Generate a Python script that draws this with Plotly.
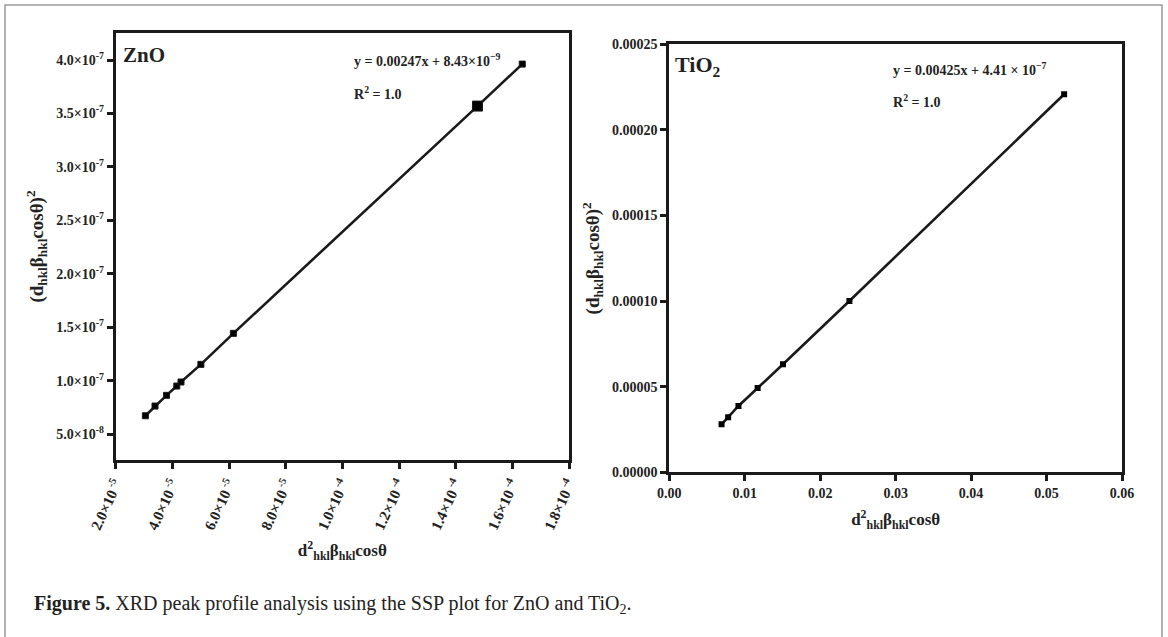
import plotly.graph_objects as go

# ---- data ----
zno_x = [3.048e-5, 3.387e-5, 3.793e-5, 4.156e-5, 4.305e-5, 5.007e-5, 6.154e-5, 1.477e-4, 1.635e-4]
zno_y = [6.71e-8, 7.62e-8, 8.62e-8, 9.49e-8, 9.87e-8, 1.152e-7, 1.442e-7, 3.569e-7, 3.962e-7]
zno_marker_size = [6, 6, 6, 6, 6, 6, 6, 10, 6]

tio2_x = [0.006927, 0.0078, 0.009166, 0.01171, 0.01507, 0.02387, 0.05233]
tio2_y = [2.804e-5, 3.213e-5, 3.873e-5, 4.924e-5, 6.308e-5, 1.0006e-4, 2.208e-4]

zno_yticks = [5e-8, 1e-7, 1.5e-7, 2e-7, 2.5e-7, 3e-7, 3.5e-7, 4e-7]
zno_ytext = ["5.0×10<sup>-8</sup>", "1.0×10<sup>-7</sup>", "1.5×10<sup>-7</sup>", "2.0×10<sup>-7</sup>",
             "2.5×10<sup>-7</sup>", "3.0×10<sup>-7</sup>", "3.5×10<sup>-7</sup>", "4.0×10<sup>-7</sup>"]
zno_xticks = [2e-5, 4e-5, 6e-5, 8e-5, 1e-4, 1.2e-4, 1.4e-4, 1.6e-4, 1.8e-4]
zno_xtext = ["2.0×10<sup> -5</sup>", "4.0×10<sup> -5</sup>", "6.0×10<sup> -5</sup>", "8.0×10<sup> -5</sup>",
             "1.0×10<sup> -4</sup>", "1.2×10<sup> -4</sup>", "1.4×10<sup> -4</sup>", "1.6×10<sup> -4</sup>",
             "1.8×10<sup> -4</sup>"]
tio2_yticks = [0, 0.00005, 0.0001, 0.00015, 0.0002, 0.00025]
tio2_ytext = ["0.00000", "0.00005", "0.00010", "0.00015", "0.00020", "0.00025"]
tio2_xticks = [0, 0.01, 0.02, 0.03, 0.04, 0.05, 0.06]
tio2_xtext = ["0.00", "0.01", "0.02", "0.03", "0.04", "0.05", "0.06"]

W, H = 1168, 637
FONT = "Liberation Serif"
INK = "#222222"

fig = go.Figure()
fig.add_trace(go.Scatter(
    x=zno_x, y=zno_y, mode="lines+markers", xaxis="x", yaxis="y",
    line=dict(color="#1a1a1a", width=2.6),
    marker=dict(symbol="square", size=zno_marker_size, color="#000000", opacity=1),
    showlegend=False, name="ZnO"))
fig.add_trace(go.Scatter(
    x=tio2_x, y=tio2_y, mode="lines+markers", xaxis="x2", yaxis="y2",
    line=dict(color="#1a1a1a", width=2.6),
    marker=dict(symbol="square", size=6, color="#000000", opacity=1),
    showlegend=False, name="TiO2"))

tickfont = dict(family=FONT, size=14, color=INK, weight="bold")
axis_common = dict(showline=True, mirror=True, linewidth=3, linecolor="#1a1a1a",
                   ticks="outside", ticklen=6, tickwidth=3, tickcolor="#1a1a1a",
                   showgrid=False, zeroline=False, automargin=False)

ytitle = "<b>(d<sub>hkl</sub>β<sub>hkl</sub>cosθ)<sup>2</sup></b>"
xtitle = "<b>d<sup>2</sup><sub>hkl</sub>β<sub>hkl</sub>cosθ</b>"
xtitlefont = dict(family=FONT, size=17, color=INK)
ytitlefont = dict(family=FONT, size=19, color=INK)

fig.update_layout(
    width=W, height=H,
    margin=dict(l=0, r=0, t=0, b=0, autoexpand=False),
    paper_bgcolor="white", plot_bgcolor="white",
    font=dict(family=FONT, color=INK),
    xaxis=dict(domain=[115.7 / W, 569 / W], range=[2e-5, 1.8e-4], anchor="y",
               tickvals=zno_xticks, ticktext=zno_xtext, tickangle=-65,
               tickfont=dict(family=FONT, size=15, color=INK, weight="bold"),
               title=dict(text=xtitle, font=xtitlefont, standoff=13), **axis_common),
    yaxis=dict(domain=[1 - 460 / H, 1 - 33 / H], range=[2.57e-8, 4.253e-7], anchor="x",
               tickvals=zno_yticks, ticktext=zno_ytext, tickfont=tickfont,
               title=dict(text=ytitle, font=ytitlefont, standoff=8), **axis_common),
    xaxis2=dict(domain=[669.3 / W, 1122 / W], range=[0, 0.06], anchor="y2",
                tickvals=tio2_xticks, ticktext=tio2_xtext, tickfont=tickfont,
                title=dict(text=xtitle, font=xtitlefont, standoff=14), **axis_common),
    yaxis2=dict(domain=[1 - 472.3 / H, 1 - 44.3 / H], range=[0, 0.00025], anchor="x2",
                tickvals=tio2_yticks, ticktext=tio2_ytext, tickfont=tickfont,
                title=dict(text=ytitle, font=ytitlefont, standoff=8), **axis_common),
)

ann_font = dict(family=FONT, size=14, color=INK)
fig.add_annotation(text="<b>ZnO</b>", xref="paper", yref="paper", x=121 / W, y=1 - 55 / H,
                   xanchor="left", yanchor="middle", showarrow=False,
                   font=dict(family=FONT, size=21, color=INK))
fig.add_annotation(text="<b>y = 0.00247x + 8.43×10<sup>−9</sup></b>", xref="paper", yref="paper",
                   x=352 / W, y=1 - 60 / H, xanchor="left", yanchor="middle", showarrow=False, font=ann_font)
fig.add_annotation(text="<b>R<sup>2</sup> = 1.0</b>", xref="paper", yref="paper",
                   x=352 / W, y=1 - 93 / H, xanchor="left", yanchor="middle", showarrow=False, font=ann_font)
fig.add_annotation(text="<b>TiO<sub>2</sub></b>", xref="paper", yref="paper", x=673 / W, y=1 - 66 / H,
                   xanchor="left", yanchor="middle", showarrow=False,
                   font=dict(family=FONT, size=22, color=INK))
fig.add_annotation(text="<b>y = 0.00425x + 4.41 × 10<sup>−7</sup></b>", xref="paper", yref="paper",
                   x=891 / W, y=1 - 69 / H, xanchor="left", yanchor="middle", showarrow=False, font=ann_font)
fig.add_annotation(text="<b>R<sup>2</sup> = 1.0</b>", xref="paper", yref="paper",
                   x=891 / W, y=1 - 101 / H, xanchor="left", yanchor="middle", showarrow=False, font=ann_font)

fig.add_annotation(text="<b>Figure 5.</b> XRD peak profile analysis using the SSP plot for ZnO and TiO<sub>2</sub>.",
                   xref="paper", yref="paper", x=32 / W, y=1 - 604 / H, xanchor="left", yanchor="middle",
                   showarrow=False, font=dict(family=FONT, size=20, color=INK))

# outer figure border (page frame)
fig.add_shape(type="rect", xref="paper", yref="paper", x0=5 / W, x1=1162 / W, y0=-0.05, y1=1 - 5 / H,
              line=dict(color="#9a9a9a", width=1.5), layer="below")

fig.write_html("out.html")
